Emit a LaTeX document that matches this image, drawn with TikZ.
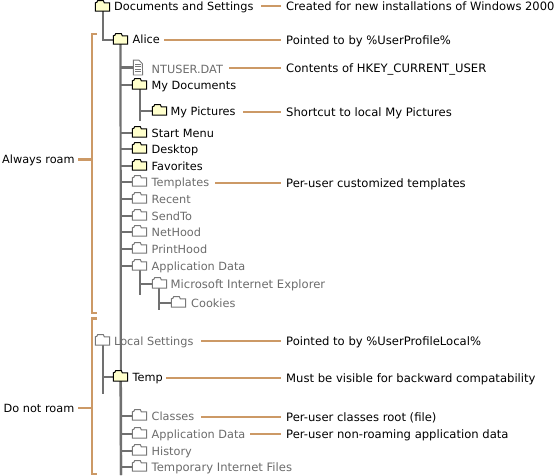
\documentclass[tikz,border=0pt]{standalone}
\usepackage{fontspec}
\usetikzlibrary{backgrounds}
\setmainfont{DejaVu Sans}
\definecolor{orng}{HTML}{CC9966}
\definecolor{trunk}{HTML}{707070}
\definecolor{fyel}{HTML}{FFFFCC}
\definecolor{fgray}{HTML}{777777}
\tikzset{x=1pt,y=-1pt,
  lead/.style={draw=orng,line width=2.2pt},
  tree/.style={draw=trunk,line width=2.2pt},
  fbox/.style={inner sep=0pt,minimum width=14pt,minimum height=8pt,anchor=center},
  dark/.style={font=\fontsize{11.3}{12}\selectfont,text=black,inner sep=0pt,anchor=west,text height=9pt,text depth=1pt},
  dim/.style={dark,text=black!58},
  note/.style={dark,font=\fontsize{11.6}{12}\selectfont},
}
% \fld{name}{x left}{y centre}{edge colour}{fill}
\newcommand{\fld}[5]{%
  \node[fbox] (#1) at (#2+7,#3) {};
  \draw[draw=#4,fill=#5,line width=1pt,line join=miter]
    (#1.south west) -- (#1.north west) -- ++(1.5,-.5) -- ++(1,-1.8) -- ++(5.5,0) -- ++(1,2.3)
    -- (#1.north east) -- (#1.south east) -- cycle;
}
\newcommand{\yf}[3]{\fld{#1}{#2}{#3}{black}{fyel}}
\newcommand{\gf}[3]{\fld{#1}{#2}{#3}{fgray}{white}}
\begin{document}
\begin{tikzpicture}
\useasboundingbox (0,0) rectangle (555,475);
\yf{docs}{95.5}{7}
\yf{alice}{113.5}{40}
\yf{mydocs}{132.5}{85}
\yf{mypics}{152.5}{111}
\yf{start}{132.5}{133}
\yf{desk}{132.5}{149}
\yf{fav}{132.5}{166}
\gf{templ}{132.5}{182}
\gf{recent}{132.5}{199}
\gf{sendto}{132.5}{216}
\gf{neth}{132.5}{232}
\gf{printh}{132.5}{249}
\gf{appd}{132.5}{266}
\gf{msie}{152.5}{284}
\gf{cook}{171.5}{303}
\gf{local}{95.5}{341}
\yf{temp}{113.5}{377}
\gf{classes}{132.5}{416}
\gf{appl}{132.5}{434}
\gf{hist}{132.5}{451}
\gf{tif}{132.5}{467}
% file icon
\node[inner sep=0pt,minimum width=9pt,minimum height=14.5pt] (file) at (138,67.5) {};
\draw[draw=fgray,fill=white,line width=.9pt] (file.south west) -- (file.north west) -- ++(5.5,0) -- ++(3.5,3.5) -- (file.south east) -- cycle;
\foreach \yy in {64,66.5,69,71.5}{\draw[fgray,line width=.9pt] (135.2,\yy) -- (140.8,\yy);}
% labels
\node[dark] (tdocs) at (114,6) {Documents and Settings};
\node[dark] (talice) at (132.5,39.5) {Alice};
\node[dim] (tfile) at (151.5,69) {NTUSER.DAT};
\node[dark] (tmydocs) at (151.5,85) {My Documents};
\node[dark] (tmypics) at (170.5,111.5) {My Pictures};
\node[dark] (tstart) at (151.5,133) {Start Menu};
\node[dark] (tdesk) at (151.5,149) {Desktop};
\node[dark] (tfav) at (151.5,166) {Favorites};
\node[dim] (ttempl) at (151.5,182.5) {Templates};
\node[dim] (trecent) at (151.5,199) {Recent};
\node[dim] (tsendto) at (151.5,216) {SendTo};
\node[dim] (tneth) at (151.5,232.5) {NetHood};
\node[dim] (tprinth) at (151.5,249) {PrintHood};
\node[dim] (tappd) at (151.5,266) {Application Data};
\node[dim,font=\fontsize{11.6}{12}\selectfont] (tmsie) at (170.5,284.5) {Microsoft Internet Explorer};
\node[dim] (tcook) at (191,303) {Cookies};
\node[dim] (tlocal) at (114,341) {Local Settings};
\node[dark] (ttemp) at (132.5,377.5) {Temp};
\node[dim] (tclasses) at (151.5,416) {Classes};
\node[dim] (tappl) at (151.5,434) {Application Data};
\node[dim] (thist) at (151.5,451) {History};
\node[dim,font=\fontsize{11.6}{12}\selectfont] (ttif) at (151.5,467.5) {Temporary Internet Files};
% right notes
\node[note,font=\fontsize{11.5}{12}\selectfont] (n1) at (286,6) {Created for new installations of Windows 2000};
\node[note] (n2) at (286,40) {Pointed to by \%UserProfile\%};
\node[note] (n3) at (286,68) {Contents of HKEY\_CURRENT\_USER};
\node[note] (n4) at (286,112) {Shortcut to local My Pictures};
\node[note] (n5) at (286,183) {Per-user customized templates};
\node[note] (n6) at (286,341) {Pointed to by \%UserProfileLocal\%};
\node[note] (n7) at (286,378) {Must be visible for backward compatability};
\node[note] (n8) at (286,417) {Per-user classes root (file)};
\node[note] (n9) at (286,434) {Per-user non-roaming application data};
\node[dark] (always) at (2,159) {Always roam};
\node[dark] (donot) at (3.5,408) {Do not roam};
% leaders
\draw[lead] (261,6) -- (281,6);
\draw[lead] (164,40) -- (281,40);
\draw[lead] (229,68) -- (281,68);
\draw[lead] (243,112) -- (281,112);
\draw[lead] (215,183) -- (281,183);
\draw[lead] (201,341) -- (281,341);
\draw[lead] (166,378) -- (281,378);
\draw[lead] (201,417) -- (281,417);
\draw[lead] (250,434) -- (281,434);
% brackets
\draw[lead] (97,34) -- (92,34) -- (92,313) -- (97,313);
\draw[lead] (97,318.5) -- (92,318.5) -- (92,474) -- (97,474);
\draw[lead] (78,159.5) -- (92,159.5);
\draw[lead] (78,408) -- (92,408);
% tree
\begin{scope}[on background layer]
\coordinate (alend) at (121,475);
\coordinate (tpend) at (121,475);
\draw[tree] (docs.center -| 103,0) -- (103,40) -- (alice.west);
\draw[tree] (alice.center) -- (alend);
\foreach \f in {file,mydocs,start,desk,fav,templ,recent,sendto,neth,printh,appd}{\draw[tree] (\f.west -| 121,0) -- (\f.west);}
\draw[tree] (mydocs.center -| 140,0) -- (140,121);
\draw[tree] (mypics.west -| 140,0) -- (mypics.west);
\draw[tree] (appd.center -| 140,0) -- (140,295);
\draw[tree] (msie.west -| 140,0) -- (msie.west);
\draw[tree] (msie.center -| 159,0) -- (159,310);
\draw[tree] (cook.west -| 159,0) -- (cook.west);
\draw[tree] (local.center -| 103,0) -- (103,394);
\draw[tree] (temp.west -| 103,0) -- (temp.west);
\draw[tree] (temp.center) -- (tpend);
\foreach \f in {classes,appl,hist,tif}{\draw[tree] (\f.west -| 121,0) -- (\f.west);}
\end{scope}
\end{tikzpicture}
\end{document}
